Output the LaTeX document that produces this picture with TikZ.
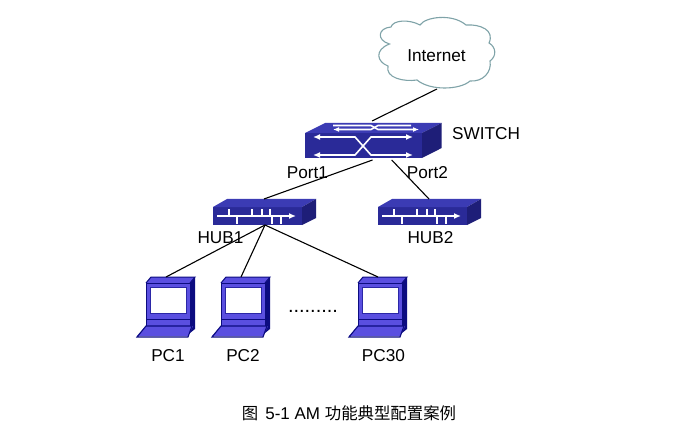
\documentclass[tikz,border=0pt]{standalone}
\usepackage{fontspec}
\setmainfont{Liberation Sans}
\newfontfamily\cjk{Noto Sans CJK SC}
\usetikzlibrary{arrows.meta}
\definecolor{devfront}{HTML}{2A2A98}
\definecolor{devtop}{HTML}{3B3BB4}
\definecolor{devside}{HTML}{1E1E78}
\definecolor{pcface}{HTML}{5A4FE0}
\definecolor{pcdark}{HTML}{0C0C80}
\definecolor{cloudline}{HTML}{7FA3A8}
\tikzset{
  label text/.style={font=\fontsize{17.2}{19}\selectfont,inner sep=0pt,text=black},
  link/.style={draw=black,line width=1.1pt},
  whiteline/.style={draw=white,line width=1.6pt},
  whitearrow/.style={whiteline,{Latex[length=7pt,width=6pt]}-{Latex[length=7pt,width=6pt]}},
  pics/switchdev/.style={code={
    \fill[devfront] (0,0) rectangle (117,25);
    \fill[devtop] (0,0) -- (20,-10) -- (136.7,-10) -- (117,0) -- cycle;
    \fill[devside] (117,0) -- (136.7,-10) -- (136.7,15) -- (117,25) -- cycle;
    \draw[whitearrow] (8,4) -- (50,4) -- (66,22) -- (108,22);
    \draw[whitearrow] (8,22) -- (50,22) -- (66,4) -- (108,4);
    \draw[whiteline,-{Latex[length=6pt,width=5pt]}] (28,-7.5) -- (66,-7.5) -- (73,-3.5) -- (114,-3.5);
    \draw[whiteline,{Latex[length=6pt,width=5pt]}-] (28,-3.5) -- (66,-3.5) -- (73,-7.5) -- (106,-7.5);
    \coordinate (-top) at (67,-12);
    \coordinate (-bl) at (67.5,27);
    \coordinate (-br) at (86.7,27);
  }},
  pics/hubdev/.style={code={
    \fill[devfront] (0,0) rectangle (89,18);
    \fill[devtop] (0,0) -- (14,-8) -- (103,-8) -- (89,0) -- cycle;
    \fill[devside] (89,0) -- (103,-8) -- (103,11) -- (89,18) -- cycle;
    \draw[whiteline,-{Latex[length=7pt,width=6pt]}] (4,9) -- (83,9);
    \foreach \ux in {16,39,49,57} \draw[whiteline] (\ux,2) -- (\ux,9);
    \foreach \dx in {24,59,68} \draw[whiteline] (\dx,9) -- (\dx,17);
    \coordinate (-top) at (51,-8);
    \coordinate (-bot) at (52,18);
  }},
  pics/pcdev/.style={code={
    \fill[pcdark] (44,0) -- (49,-6) -- (49,46) -- (44,50) -- cycle;
    \fill[pcface] (0,0) -- (5,-6) -- (49,-6) -- (44,0) -- cycle;
    \draw[pcdark,line width=1pt] (0,0) -- (5,-6) -- (49,-6) -- (44,0);
    \fill[pcface] (0,0) rectangle (44,36);
    \draw[pcdark,line width=1pt] (0,0) rectangle (44,36);
    \fill[white] (4.5,4) rectangle (40.5,30);
    \draw[pcdark!60!pcface,line width=1pt] (4.5,4) rectangle (40.5,30);
    \fill[pcface] (0,36) rectangle (44,43);
    \draw[pcdark,line width=1pt] (0,36) rectangle (44,43);
    \fill[pcface] (0,43) -- (47,43) -- (42,53) -- (-9,53) -- cycle;
    \draw[pcdark,line width=1.1pt] (0,43) -- (46,43) -- (42,54) -- (-9,54) -- cycle;
    \coordinate (-top) at (20,-6);
  }}
}
\begin{document}
\begin{tikzpicture}[x=1pt,y=-1pt]
\useasboundingbox (0,0) rectangle (692,438);
\fill[white] (0,0) rectangle (692,438);
% cloud
\draw[cloudline,line width=1.1pt,fill=white]
  (389.5,44)
  .. controls (376,40) and (378,28) .. (391,27)
  .. controls (393,20) and (409,19) .. (420,25)
  .. controls (425,17) and (452,13) .. (466,25)
  .. controls (480,24) and (495,30) .. (489,43)
  .. controls (496,47) and (497,56) .. (490,61)
  .. controls (492,72) and (483,82) .. (470,81)
  .. controls (460,90) and (430,91) .. (417,80)
  .. controls (404,82) and (385,78) .. (388,66)
  .. controls (377,62) and (374,50) .. (389.5,44)
  -- cycle;
\coordinate (cloudbot) at (437,89);
\node[label text] (internet) at (436.5,56) {Internet};
\pic (sw) at (305,133) {switchdev};
\pic (hubA) at (213,207) {hubdev};
\pic (hubB) at (378,207) {hubdev};
\pic (pcA) at (146,283) {pcdev};
\pic (pcB) at (221,283) {pcdev};
\pic (pcC) at (358,283) {pcdev};
\draw[link] (cloudbot) -- (sw-top);
\draw[link] (sw-bl) -- (hubA-top);
\draw[link] (sw-br) -- (hubB-top);
\draw[link] (hubA-bot) -- (pcA-top);
\draw[link] (hubA-bot) -- (pcB-top);
\draw[link] (hubA-bot) -- (pcC-top);
\node[label text] (swl) at (486,134) {SWITCH};
\node[label text] (p1) at (307.5,173) {Port1};
\node[label text] (p2) at (427.5,173) {Port2};
\node[label text] (h1) at (220.5,238) {HUB1};
\node[label text] (h2) at (430.5,238) {HUB2};
\node[label text,font=\fontsize{20}{20}\selectfont] (d) at (313,311) {.........};
\node[label text] (c1) at (168,355.5) {PC1};
\node[label text] (c2) at (243,355.5) {PC2};
\node[label text] (c3) at (383.5,355.5) {PC30};
\node[inner sep=0pt,font=\fontsize{17}{18}\selectfont] (cap) at (349,413) {{\cjk\fontsize{16.4}{18}\selectfont 图}\hspace{7pt}5-1 AM {\cjk\fontsize{16.4}{18}\selectfont 功能典型配置案例}};
\end{tikzpicture}
\end{document}
